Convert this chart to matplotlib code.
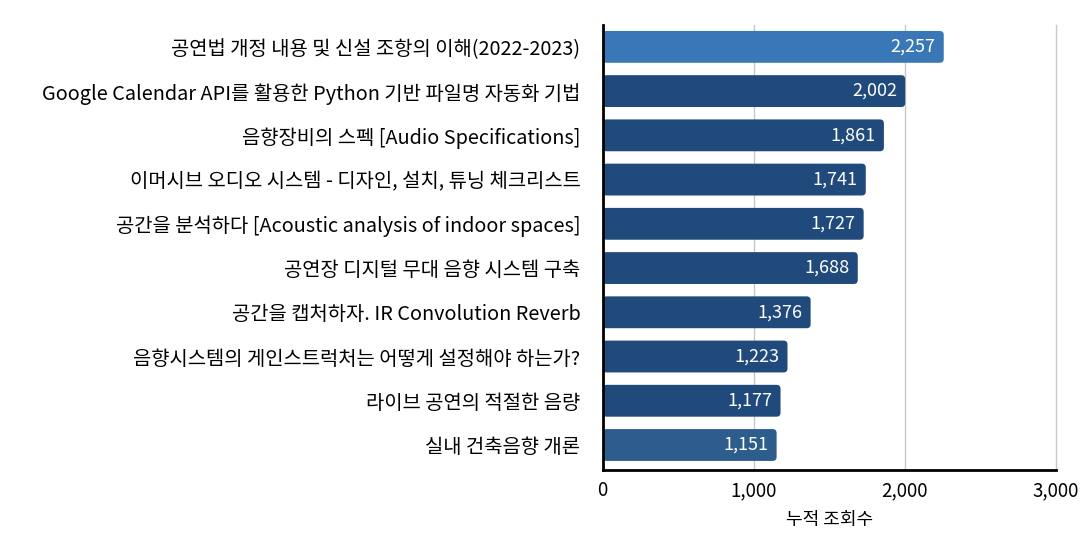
import matplotlib.pyplot as plt
from matplotlib.patches import FancyBboxPatch
from matplotlib.ticker import FuncFormatter

plt.rcParams['font.family'] = ['Noto Sans CJK KR', 'DejaVu Sans']

titles = [
    "공연법 개정 내용 및 신설 조항의 이해(2022-2023)",
    "Google Calendar API를 활용한 Python 기반 파일명 자동화 기법",
    "음향장비의 스펙 [Audio Specifications]",
    "이머시브 오디오 시스템 - 디자인, 설치, 튜닝 체크리스트",
    "공간을 분석하다 [Acoustic analysis of indoor spaces]",
    "공연장 디지털 무대 음향 시스템 구축",
    "공간을 캡처하자. IR Convolution Reverb",
    "음향시스템의 게인스트럭처는 어떻게 설정해야 하는가?",
    "라이브 공연의 적절한 음량",
    "실내 건축음향 개론",
]
views = [2257, 2002, 1861, 1741, 1727, 1688, 1376, 1223, 1177, 1151]
colors = ["#3a77b7"] + ["#1f4a7b"] * 8 + ["#2d5d8c"]

fig = plt.figure(figsize=(10.82, 5.38), dpi=100)
ax = fig.add_axes([0.557, 0.126, 0.419, 0.828])

ypos = list(range(len(titles)))
bars = ax.barh(ypos, views, height=0.72, color=colors, zorder=2)

ax.set_xlim(0, 3000)
ax.set_ylim(9.57, -0.5)

# swap plain bars for rounded ones
px_x = 3000 / (0.419 * 1082)
px_y = 10.07 / (0.828 * 538)
for b in bars:
    x, y, w, h = b.get_x(), b.get_y(), b.get_width(), b.get_height()
    r = 4 * px_x
    p = FancyBboxPatch((x, y), w, h,
                       boxstyle=f"round,pad=0,rounding_size={r}",
                       mutation_aspect=px_y / px_x,
                       facecolor=b.get_facecolor(), edgecolor="none", zorder=2)
    b.remove()
    ax.add_patch(p)

for y, v in zip(ypos, views):
    ax.text(v - 55, y, f"{v:,}", ha="right", va="center", color="white",
            fontsize=13, zorder=3)

ax.set_yticks(ypos)
ax.set_yticklabels(titles, fontsize=14.3)
ax.set_xticks([0, 1000, 2000, 3000])
ax.xaxis.set_major_formatter(FuncFormatter(lambda v, p: f"{int(v):,}"))
ax.tick_params(axis="x", length=0, labelsize=13.5, pad=7)
ax.tick_params(axis="y", length=0, pad=16)
ax.grid(axis="x", color="#c8c8c8", linewidth=1, zorder=0)
for gl in ax.get_xgridlines():
    gl.set_clip_on(False)
ax.set_axisbelow(True)

for s in ["top", "right"]:
    ax.spines[s].set_visible(False)
ax.spines["left"].set_linewidth(2)
ax.spines["bottom"].set_linewidth(2)
ax.spines["left"].set_zorder(4)

ax.set_xlabel("누적 조회수", fontsize=13, labelpad=7)

fig.savefig("out.png", dpi=100)
